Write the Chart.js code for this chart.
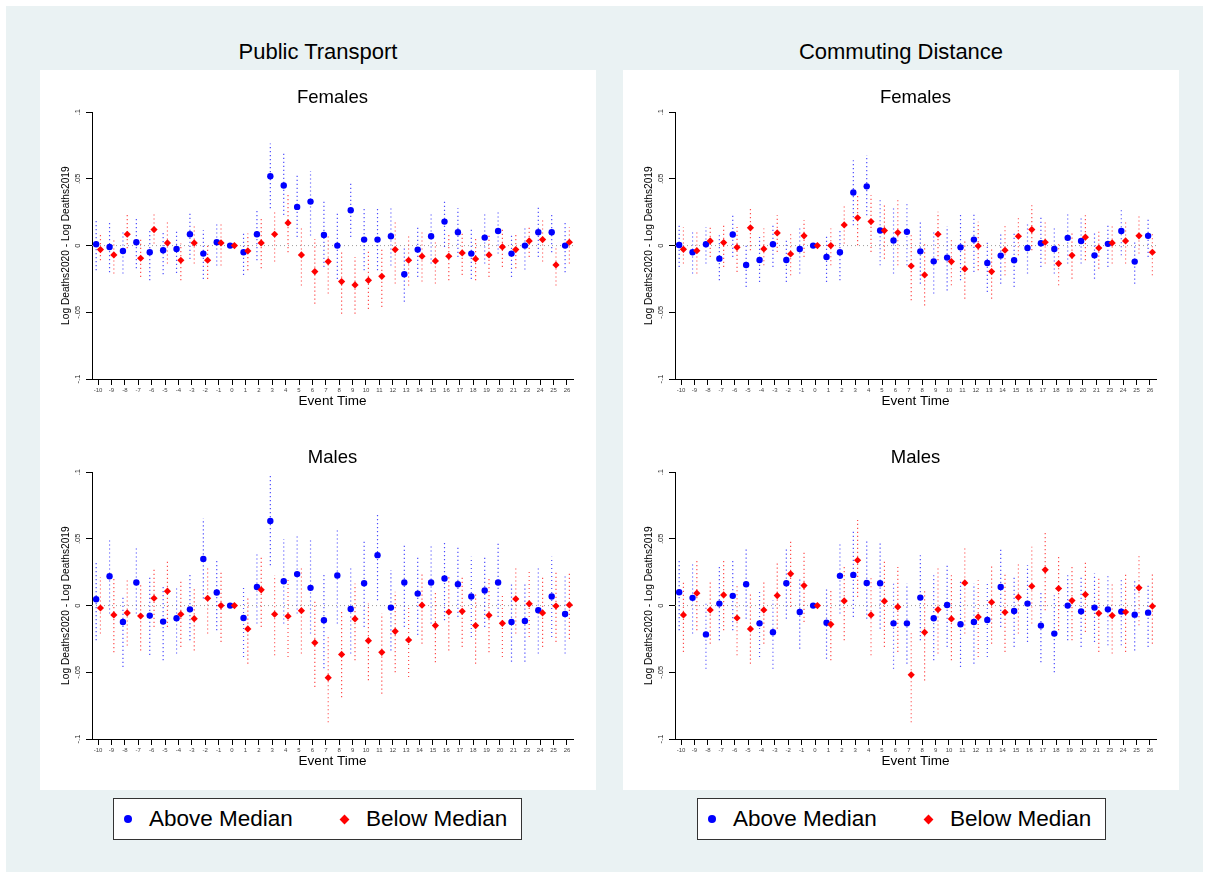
<!DOCTYPE html>
<html>
<head>
<meta charset="utf-8">
<script src="https://cdn.jsdelivr.net/npm/chart.js@4.4.1/dist/chart.umd.min.js"></script>
<style>
  html, body { margin: 0; padding: 0; background: #fff; }
  body { width: 1209px; height: 878px; position: relative; overflow: hidden;
         font-family: "Liberation Sans", Arial, sans-serif; }
  #bg { position: absolute; left: 6px; top: 6px; width: 1197px; height: 866px; background: #eaf2f3; }
  .box { position: absolute; top: 70px; width: 556px; height: 720px; background: #fff; }
  .title { position: absolute; top: 41px; width: 556px; line-height: 22px; text-align: center;
           font-size: 22px; color: #000; }
  canvas { position: absolute; }
  .legend { position: absolute; top: 798px; width: 407px; height: 40px; border: 1px solid #333; background: #fff; }
  .legend span { position: absolute; }
  .dot { left: 10px; top: 16px; width: 8px; height: 8px; border-radius: 50%; background: #0000ff; }
  .dia { left: 226.5px; top: 16.5px; width: 7px; height: 7px; background: #ff0000; transform: rotate(45deg); }
  .lt { top: 0; line-height: 40px; font-size: 22.5px; color: #000; white-space: nowrap; }
</style>
</head>
<body>
<div id="bg"></div>
<div class="box" style="left:40px"></div>
<div class="box" style="left:623px"></div>
<div class="title" style="left:40px">Public Transport</div>
<div class="title" style="left:623px">Commuting Distance</div>

<canvas id="ptFem" width="537" height="328" style="left:40px;top:85px"></canvas>
<canvas id="ptMal" width="537" height="328" style="left:40px;top:445px"></canvas>
<canvas id="cdFem" width="537" height="328" style="left:623px;top:85px"></canvas>
<canvas id="cdMal" width="537" height="328" style="left:623px;top:445px"></canvas>

<div class="legend" style="left:113px">
  <span class="dot"></span><span class="lt" style="left:35px">Above Median</span>
  <span class="dia"></span><span class="lt" style="left:252px">Below Median</span>
</div>
<div class="legend" style="left:697px">
  <span class="dot"></span><span class="lt" style="left:35px">Above Median</span>
  <span class="dia"></span><span class="lt" style="left:252px">Below Median</span>
</div>

<script>
// event time labels as printed on the axis (22 does not appear)
const eventLabels = ["-10","-9","-8","-7","-6","-5","-4","-3","-2","-1",
  "0","1","2","3","4","5","6","7","8","9","10","11","12","13","14","15","16","17","18","19","20","21",
  "23","24","25","26"];

// Public Transport, Females
const ptFemAbove   = [0.001,-0.001,-0.004,0.0025,-0.005,-0.0035,-0.0025,0.0085,-0.006,0.0025,
  0,-0.005,0.0085,0.052,0.045,0.029,0.033,0.008,0,0.0265,0.0045,0.0045,0.007,-0.0215,-0.003,0.007,0.018,0.01,-0.006,0.006,0.011,-0.006,
  0,0.01,0.01,0];
const ptFemAboveLo = [-0.0185,-0.020,-0.021,-0.017,-0.026,-0.0215,-0.0205,-0.010,-0.025,-0.015,
  null,-0.022,-0.011,0.028,0.023,0.0065,0.0075,-0.016,-0.025,0.0065,-0.0185,-0.0185,-0.015,-0.042,-0.0235,-0.0135,-0.001,-0.0085,-0.025,-0.0135,-0.006,-0.0235,
  -0.018,-0.0085,-0.005,-0.020];
const ptFemAboveHi = [0.019,0.0175,0.0115,0.020,0.013,0.011,0.0115,0.024,0.0115,0.018,
  null,0.010,0.0265,0.0765,0.069,0.053,0.056,0.0345,0.024,0.0465,0.028,0.0285,0.0285,-0.001,0.014,0.025,0.035,0.028,0.013,0.024,0.025,0.008,
  0.014,0.0285,0.024,0.018];
const ptFemBelow   = [-0.003,-0.007,0.0085,-0.0095,0.012,0.002,-0.011,0.002,-0.011,0.002,
  0,-0.004,0.002,0.0085,0.017,-0.007,-0.0195,-0.012,-0.027,-0.0295,-0.026,-0.023,-0.003,-0.011,-0.008,-0.0115,-0.008,-0.0055,-0.010,-0.007,-0.001,-0.003,
  0.0035,0.0045,-0.0145,0.0025];
const ptFemBelowLo = [-0.011,-0.021,-0.002,-0.0235,0.0015,-0.0135,-0.026,-0.0135,-0.025,-0.015,
  null,-0.0185,-0.017,-0.012,-0.005,-0.030,-0.0435,-0.036,-0.051,-0.051,-0.0475,-0.046,-0.0285,-0.030,-0.027,-0.0285,-0.026,-0.022,-0.026,-0.0235,-0.016,-0.017,
  -0.0085,-0.012,-0.030,-0.0135];
const ptFemBelowHi = [0.009,0.004,0.023,0.0065,0.024,0.019,0.0015,0.015,0.0015,0.018,
  null,0.009,0.020,0.0265,0.038,0.014,0.005,0.009,-0.0035,-0.0085,-0.0035,-0.001,0.019,0.008,0.0115,0.004,0.009,0.010,0.005,0.009,0.014,0.010,
  0.015,0.020,-0.002,0.014];

// Public Transport, Males
const ptMalAbove   = [0.0048,0.022,-0.0123,0.0173,-0.0075,-0.012,-0.0095,-0.0028,0.035,0.0098,
  0,-0.0093,0.014,0.0634,0.0183,0.0236,0.0133,-0.011,0.0226,-0.0025,0.0168,0.0378,-0.0015,0.0173,0.009,0.0173,0.0203,0.016,0.0068,0.0113,0.0173,-0.0123,
  -0.0115,-0.0035,0.0068,-0.0063];
const ptMalAboveLo = [-0.026,-0.006,-0.046,-0.006,-0.037,-0.041,-0.036,-0.026,0.0053,-0.0185,
  null,-0.0386,-0.0135,0.0303,-0.0135,-0.006,-0.021,-0.047,-0.0135,-0.036,-0.016,0.004,-0.0336,-0.016,-0.022,-0.0135,-0.011,-0.0085,-0.0236,-0.016,-0.0085,-0.042,
  -0.042,-0.036,-0.0236,-0.036];
const ptMalAboveHi = [0.033,0.049,0.0078,0.043,0.023,0.014,0.0128,0.023,0.0654,0.0353,
  null,0.0153,0.039,0.099,0.050,0.054,0.049,0.023,0.0566,0.028,0.048,0.069,0.0266,0.0454,0.038,0.0466,0.049,0.044,0.0366,0.0366,0.047,0.0178,
  0.0165,0.029,0.0366,0.024];
const ptMalBelow   = [-0.0018,-0.007,-0.0055,-0.0078,0.0055,0.0108,-0.0065,-0.0098,0.0055,0,
  0,-0.0175,0.0118,-0.0065,-0.008,-0.0038,-0.0278,-0.054,-0.0366,-0.010,-0.0263,-0.035,-0.0193,-0.0258,0.0003,-0.015,-0.0048,-0.0043,-0.015,-0.0073,-0.0133,0.005,
  0.0013,-0.0055,-0.0003,0.0005];
const ptMalBelowLo = [-0.021,-0.035,-0.030,-0.0336,-0.016,-0.016,-0.031,-0.0336,-0.021,-0.0273,
  null,-0.0436,-0.016,-0.0373,-0.0386,-0.036,-0.061,-0.0875,-0.0687,-0.041,-0.056,-0.066,-0.050,-0.0536,-0.0286,-0.0424,-0.0336,-0.031,-0.0436,-0.035,-0.0386,-0.021,
  -0.0236,-0.031,-0.0273,-0.025];
const ptMalBelowHi = [0.0215,0.020,0.019,0.0153,0.029,0.034,0.0178,0.014,0.028,0.0266,
  null,0.0065,0.0366,0.023,0.0215,0.028,0.0028,-0.0235,-0.0048,0.0165,0.0015,-0.006,0.0103,0.0003,0.0253,0.0115,0.0215,0.0215,0.0103,0.020,0.009,0.028,
  0.0253,0.0215,0.0266,0.024];

// Commuting Distance, Females
const cdFemAbove   = [0.0005,-0.005,0.001,-0.0098,0.0083,-0.0145,-0.0108,0.001,-0.0108,-0.0025,
  0,-0.0085,-0.005,0.0398,0.0444,0.0113,0.0038,0.0103,-0.0043,-0.0118,-0.009,-0.0013,0.0045,-0.013,-0.0075,-0.011,-0.0018,0.0018,-0.0025,0.0058,0.0035,-0.0073,
  0.0013,0.011,-0.012,0.0073];
const cdFemAboveLo = [-0.016,-0.021,-0.0135,-0.026,-0.0085,-0.031,-0.0273,-0.016,-0.0273,-0.021,
  null,-0.0273,-0.026,0.0153,0.0228,-0.0148,-0.021,-0.0148,-0.0286,-0.036,-0.0336,-0.026,-0.0198,-0.0348,-0.0286,-0.031,-0.021,-0.016,-0.021,-0.0135,-0.0135,-0.0248,
  -0.016,-0.0073,-0.0286,-0.0085];
const cdFemAboveHi = [0.0165,0.0115,0.014,0.0078,0.023,0.0015,0.0065,0.0165,0.004,0.0128,
  null,0.0078,0.0115,0.064,0.068,0.0353,0.028,0.033,0.019,0.0115,0.0145,0.023,0.0241,0.004,0.0103,0.009,0.0165,0.0215,0.0128,0.0241,0.0203,0.009,
  0.0165,0.0266,0.004,0.0215];
const cdFemBelow   = [-0.0028,-0.0038,0.0035,0.0023,-0.0013,0.0133,-0.0025,0.0095,-0.0063,0.0073,
  0,0,0.0155,0.0208,0.018,0.0113,0.0098,-0.0153,-0.022,0.0085,-0.012,-0.0175,-0.0003,-0.0195,-0.0035,0.007,0.012,0.0025,-0.0135,-0.0073,0.0063,-0.0018,
  0.002,0.0035,0.0073,-0.005];
const cdFemBelowLo = [-0.0135,-0.021,-0.0085,-0.016,-0.0198,-0.0035,-0.0148,-0.0048,-0.0223,-0.0085,
  null,-0.0148,0.0015,0.0003,-0.0048,-0.0098,-0.0148,-0.041,-0.0449,-0.011,-0.0298,-0.0398,-0.0185,-0.0398,-0.0223,-0.0073,-0.0035,-0.0135,-0.0298,-0.0248,-0.011,-0.0173,
  -0.0135,-0.0135,-0.006,-0.0223];
const cdFemBelowHi = [0.014,0.0115,0.0153,0.0165,0.014,0.029,0.0128,0.0228,0.009,0.019,
  null,0.0128,0.0303,0.0378,0.0378,0.0316,0.034,0.0078,0.0015,0.0253,0.0053,0.004,0.0178,-0.001,0.0153,0.0216,0.0303,0.0178,0.0015,0.009,0.0228,0.0103,
  0.0165,0.019,0.0228,0.009];

// Commuting Distance, Males
const cdMalAbove   = [0.010,0.0058,-0.0216,0.0015,0.0073,0.016,-0.0133,-0.020,0.0168,-0.0048,
  0,-0.0128,0.0223,0.023,0.017,0.0168,-0.0133,-0.0133,0.006,-0.0095,0.0005,-0.014,-0.0123,-0.0108,0.014,-0.004,0.0015,-0.015,-0.021,0,-0.0043,-0.0015,
  -0.0028,-0.0045,-0.0068,-0.0053];
const cdMalAboveLo = [-0.0185,-0.021,-0.0474,-0.026,-0.0185,-0.0098,-0.0386,-0.0474,-0.0098,-0.0323,
  null,-0.0398,-0.006,-0.0085,-0.0098,-0.0173,-0.0474,-0.0436,-0.026,-0.041,-0.031,-0.046,-0.0436,-0.0386,-0.016,-0.031,-0.0273,-0.0424,-0.0499,-0.026,-0.031,-0.0273,
  -0.0298,-0.0298,-0.0336,-0.031];
const cdMalAboveHi = [0.0353,0.0316,0.0015,0.029,0.034,0.0429,0.0103,0.004,0.0429,0.0203,
  null,0.014,0.0471,0.0554,0.049,0.0479,0.0165,0.0165,0.0378,0.0228,0.0316,0.0178,0.0165,0.0165,0.0429,0.0228,0.0303,0.0115,0.0078,0.0228,0.0216,0.024,
  0.024,0.0203,0.019,0.0165];
const cdMalBelow   = [-0.007,0.0093,-0.0033,0.008,-0.0093,-0.0175,-0.0033,0.0075,0.0238,0.015,
  0,-0.014,0.0035,0.034,-0.007,0.0033,-0.001,-0.0519,-0.020,-0.003,-0.010,0.017,-0.0085,0.0025,-0.005,0.0063,0.0145,0.0268,0.0128,0.0038,0.0083,-0.0058,
  -0.0075,-0.0048,0.0133,-0.0005];
const cdMalBelowLo = [-0.0348,-0.0185,-0.0286,-0.0185,-0.0373,-0.0436,-0.0286,-0.0173,-0.001,-0.0123,
  null,-0.041,-0.026,0.0065,-0.0373,-0.031,-0.0348,-0.0875,-0.0561,-0.036,-0.041,-0.021,-0.0386,-0.0286,-0.0348,-0.021,-0.0135,-0.0035,-0.0185,-0.026,-0.0198,-0.0348,
  -0.036,-0.0348,-0.0148,-0.0286];
const cdMalBelowHi = [0.0178,0.0353,0.019,0.034,0.0153,0.0103,0.019,0.0328,0.0491,0.0404,
  null,0.0115,0.029,0.0642,0.0216,0.034,0.029,-0.0198,0.0128,0.029,0.0228,0.0441,0.019,0.0303,0.024,0.0316,0.0441,0.0554,0.0378,0.029,0.034,0.0203,
  0.0178,0.024,0.0378,0.024];

const X_MIN = -0.45, X_MAX = eventLabels.length - 0.55;
const ABOVE_OFF = -0.14, BELOW_OFF = 0.18;
const BLUE = "#0000ff", RED = "#ff0000";

Chart.defaults.font.family = '"Liberation Sans", Arial, sans-serif';

function points(vals, off) {
  return vals.map((v, i) => ({ x: i + off, y: v }));
}

// lo/hi pairs broken by nulls so one dataset draws every interval
function intervals(lo, hi, off) {
  const out = [];
  lo.forEach((l, i) => {
    if (l !== null) out.push({ x: i + off, y: l }, { x: i + off, y: hi[i] });
    out.push({ x: i + off, y: null });
  });
  return out;
}

function fmtY(v) {
  const r = Math.round(v * 100) / 100;
  return r === 0 ? "0" : String(r).replace("0.", ".");
}

// y tick labels are drawn vertical, as in the Stata original
const verticalYTicks = {
  id: "verticalYTicks",
  afterDraw(chart) {
    const s = chart.scales.y, ctx = chart.ctx;
    ctx.save();
    ctx.fillStyle = "#222";
    ctx.font = '7.5px "Liberation Sans", Arial, sans-serif';
    ctx.textAlign = "center";
    ctx.textBaseline = "middle";
    s.ticks.forEach(t => {
      ctx.save();
      ctx.translate(s.right - 14.5, s.getPixelForValue(t.value));
      ctx.rotate(-Math.PI / 2);
      ctx.fillText(fmtY(t.value), 0, 0);
      ctx.restore();
    });
    ctx.restore();
  }
};

function drawPanel(id, title, above, aboveLo, aboveHi, below, belowLo, belowHi) {
  new Chart(document.getElementById(id), {
    type: "line",
    data: {
      datasets: [
        {
          label: "Below Median",
          data: points(below, BELOW_OFF),
          showLine: false,
          pointStyle: "rectRot",
          pointRadius: 3.6,
          pointBorderWidth: 0,
          backgroundColor: RED,
          borderColor: RED,
        },
        {
          label: "Above Median",
          data: points(above, ABOVE_OFF),
          showLine: false,
          pointStyle: "circle",
          pointRadius: 3.2,
          pointBorderWidth: 0,
          backgroundColor: BLUE,
          borderColor: BLUE,
        },
        {
          label: "Below CI",
          data: intervals(belowLo, belowHi, BELOW_OFF),
          borderColor: "rgba(255,0,0,0.7)",
          borderWidth: 1.2,
          borderDash: [1.2, 2.8],
          pointRadius: 0,
          spanGaps: false,
        },
        {
          label: "Above CI",
          data: intervals(aboveLo, aboveHi, ABOVE_OFF),
          borderColor: "rgba(0,0,255,0.7)",
          borderWidth: 1.2,
          borderDash: [1.2, 2.8],
          pointRadius: 0,
          spanGaps: false,
        },
        {
          label: "zero",
          data: [{ x: X_MIN, y: 0 }, { x: X_MAX, y: 0 }],
          borderColor: "#9a9a9a",
          borderWidth: 1,
          borderDash: [1, 3],
          pointRadius: 0,
        },
      ],
    },
    options: {
      responsive: false,
      animation: false,
      layout: { padding: 0 },
      plugins: {
        legend: { display: false },
        tooltip: { enabled: false },
        title: {
          display: true,
          text: title,
          color: "#000",
          font: { size: 18.5, weight: "normal" },
          padding: { top: 2, bottom: 3 },
          fullSize: false,
        },
      },
      scales: {
        x: {
          type: "linear",
          min: X_MIN,
          max: X_MAX,
          afterFit: s => { s.height = 34; },
          grid: { drawOnChartArea: false, drawTicks: true, tickLength: 6, color: "#000" },
          border: { display: true, color: "#000", width: 1 },
          ticks: {
            stepSize: 1,
            includeBounds: false,
            autoSkip: false,
            maxRotation: 0,
            padding: 2,
            color: "#444",
            font: { size: 6 },
            callback: v => eventLabels[v] ?? "",
          },
          title: {
            display: true,
            text: "Event Time",
            color: "#000",
            font: { size: 13.5 },
            padding: { top: 0, bottom: 4 },
          },
        },
        y: {
          min: -0.1,
          max: 0.1,
          afterFit: s => { s.width = 52; },
          grid: { drawOnChartArea: false, drawTicks: true, tickLength: 6, color: "#000" },
          border: { display: true, color: "#000", width: 1 },
          ticks: { stepSize: 0.05, display: false },
          title: {
            display: true,
            text: "Log Deaths2020 - Log Deaths2019",
            color: "#000",
            font: { size: 10.2 },
            padding: { top: 20, bottom: 0 },
          },
        },
      },
    },
    plugins: [verticalYTicks],
  });
}

drawPanel("ptFem", "Females", ptFemAbove, ptFemAboveLo, ptFemAboveHi, ptFemBelow, ptFemBelowLo, ptFemBelowHi);
drawPanel("ptMal", "Males", ptMalAbove, ptMalAboveLo, ptMalAboveHi, ptMalBelow, ptMalBelowLo, ptMalBelowHi);
drawPanel("cdFem", "Females", cdFemAbove, cdFemAboveLo, cdFemAboveHi, cdFemBelow, cdFemBelowLo, cdFemBelowHi);
drawPanel("cdMal", "Males", cdMalAbove, cdMalAboveLo, cdMalAboveHi, cdMalBelow, cdMalBelowLo, cdMalBelowHi);
</script>
</body>
</html>
